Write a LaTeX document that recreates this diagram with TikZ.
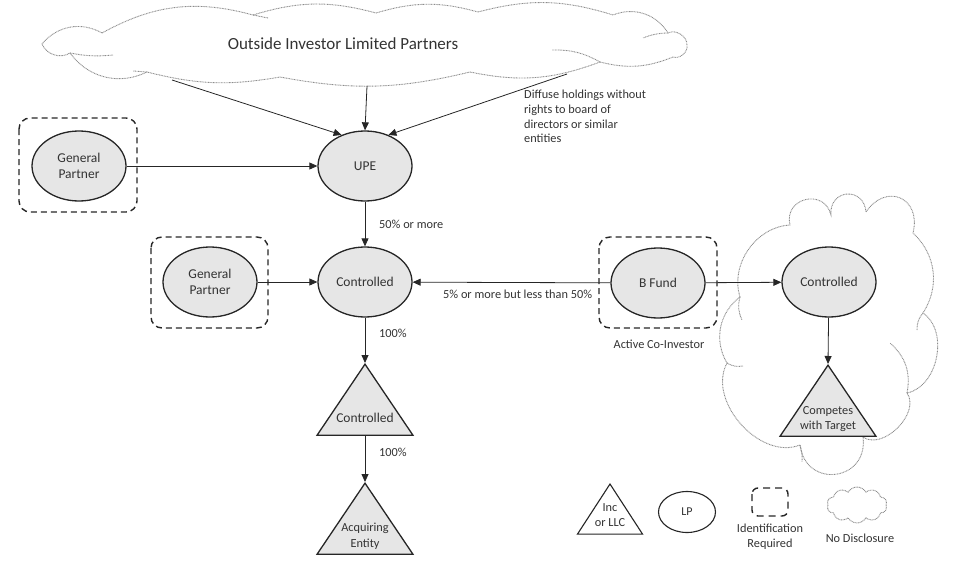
\documentclass[tikz,border=0pt]{standalone}
\usepackage{fontspec}
\setmainfont{Carlito}
\usetikzlibrary{shapes.geometric,shapes.symbols,arrows.meta}
\definecolor{nodefill}{HTML}{E6E6E6}
\definecolor{ink}{HTML}{262626}
\definecolor{txt}{HTML}{333333}
\definecolor{cloudc}{HTML}{8C8C8C}
\tikzset{
  ent/.style={ellipse, draw=ink, line width=1.3pt, fill=nodefill, minimum width=94pt, minimum height=70pt, inner sep=0pt, align=center, font=\fontsize{13.5}{15.5}\selectfont, text=txt},
  tri/.style={isosceles triangle, isosceles triangle apex angle=68, shape border rotate=90, draw=ink, line width=1.3pt, fill=nodefill, minimum width=96pt, minimum height=71pt, inner sep=0pt, anchor=apex},
  idbox/.style={draw=ink, line width=1.4pt, dash pattern=on 6pt off 4pt, rounded corners=11pt},
  lab/.style={font=\fontsize{12.3}{14.5}\selectfont, text=txt, inner sep=0pt},
  conn/.style={draw=ink, line width=0.8pt, -{Triangle[length=8pt,width=7pt]}},
  cloudline/.style={draw=cloudc, line width=0.9pt, dash pattern=on 0.9pt off 0.7pt},
  nocloud/.style={cloud, cloudline, inner sep=0pt},
  pf/.style={bend left=#1},
}
\begin{document}
\begin{tikzpicture}[x=1pt,y=-1pt]
\useasboundingbox (0,0) rectangle (975,586);
% top cloud
\draw[cloudline] (102,33) to[pf=22] (253,15) to[pf=16] (376,13) to[pf=16] (478,12)
  to[pf=16] (613,15) to[pf=40] (668,33) to[pf=60] (687,45) to[pf=60] (673,57)
  to[pf=18] (600,62) to[pf=16] (470,72) to[pf=12] (280,77) to[pf=12] (147,72)
  to[pf=40] (70,53) to[pf=50] (42,44) to[pf=40] (102,33);
\draw[cloudline] (70,53) to[pf=-8] (113,55);
\draw[cloudline] (600,62) to[pf=-15] (552,50);
\draw[cloudline] (668,33) to[pf=-10] (643,38);
\draw[cloudline] (253,15) -- (268,18);
\draw[cloudline] (147,72) -- (133,71);
\node[font=\fontsize{17}{19}\selectfont, text=txt] (olpt) at (343,44) {Outside Investor Limited Partners};
\coordinate (c1) at (172,80);
\coordinate (c2) at (367,86);
\coordinate (c3) at (567,74);
% right cloud
\draw[cloudline] (740,297) to[pf=52] (790,225) to[pf=90, looseness=1.7] (831,215)
  to[pf=90, looseness=1.9] (866,212) to[pf=80, looseness=1.8] (913,233)
  to[pf=40] (923,313) to[pf=67] (907,393) to[pf=80] (863,437)
  to[pf=90, looseness=1.8] (800,445) to[pf=70] (727,363) to[pf=42] (740,297);
\draw[cloudline] (907,393) to[pf=-30] (890,343);
\draw[cloudline] (800,445) to[pf=10] (802,462);
\draw[cloudline] (727,363) to[pf=-20] (743,366);
\draw[cloudline] (740,297) to[pf=-20] (742,320);
\draw[cloudline] (923,313) to[pf=-20] (917,330);
% entities
\node[ent] (upe) at (365,166) {UPE};
\node[ent] (gp1) at (79,166) {General\\Partner};
\node[ent] (ctl) at (365,282) {Controlled};
\node[ent] (gp2) at (210,282) {General\\Partner};
\node[ent] (bf) at (658,283) {B Fund};
\node[ent] (ctl2) at (829,282) {Controlled};
% id boxes
\draw[idbox] (19,118) rectangle (137,212);
\draw[idbox] (151,237) rectangle (268,328);
\draw[idbox] (599,237) rectangle (717,328);
% triangles
\node[tri] (tctl) at (365,363) {};
\node[lab, font=\fontsize{13.5}{15}\selectfont] (tctlt) at (365,418) {Controlled};
\node[tri] (acq) at (365,482) {};
\node[lab, align=center, font=\fontsize{12.3}{16}\selectfont] (acqt) at (365,536) {Acquiring\\Entity};
\node[tri] (comp) at (828,364) {};
\node[lab, align=center, font=\fontsize{12.3}{15}\selectfont] (compt) at (828,419) {Competes\\with Target};
% connectors
\draw[conn] (c1) -- (upe.127);
\draw[conn] (c2) -- (upe.north);
\draw[conn] (c3) -- (upe.53);
\draw[conn] (gp1) -- (upe);
\draw[conn] (upe) -- (ctl);
\draw[conn] (gp2) -- (ctl);
\draw[conn] (bf) -- (ctl);
\draw[conn] (bf) -- (ctl2);
\draw[conn] (ctl) -- (tctl.apex);
\draw[conn] (tctl.south) -- (acq.apex);
\draw[conn] (ctl2) -- (comp.apex);
% labels
\node[lab, anchor=west] (l50) at (379,224) {50\% or more};
\node[lab, anchor=west] (l100a) at (379,333) {100\%};
\node[lab, anchor=west] (l100b) at (379,452) {100\%};
\node[lab, anchor=west] (l5) at (443,294) {5\% or more but less than 50\%};
\node[lab] (aci) at (659,344) {Active Co-Investor};
\node[lab, anchor=north west, align=left, font=\fontsize{12.3}{14.7}\selectfont] (diff) at (524,90) {Diffuse holdings without\\rights to board of\\directors or similar\\entities};
% legend
\node[isosceles triangle, isosceles triangle apex angle=66, shape border rotate=90, draw=ink, line width=1.1pt, fill=white, minimum width=65pt, minimum height=50pt, inner sep=0pt, anchor=apex] (lt) at (610,483) {};
\node[lab, align=center, font=\fontsize{12.3}{15}\selectfont] (ltt) at (610,515) {Inc\\or LLC};
\node[ellipse, draw=ink, line width=1.1pt, fill=white, minimum width=57pt, minimum height=41pt, inner sep=0pt, font=\fontsize{12}{13}\selectfont, text=txt] (lp) at (687,512) {LP};
\draw[idbox, rounded corners=6pt, dash pattern=on 7pt off 5pt] (752,488) rectangle (788,516);
\node[lab, align=center, font=\fontsize{12.3}{15}\selectfont] (idt) at (770,537) {Identification\\Required};
\node[nocloud, cloud puffs=10, cloud puff arc=120, minimum width=60pt, minimum height=36pt] (lcl) at (857,505) {};
\node[lab] (ndt) at (860,538) {No Disclosure};
\end{tikzpicture}
\end{document}
